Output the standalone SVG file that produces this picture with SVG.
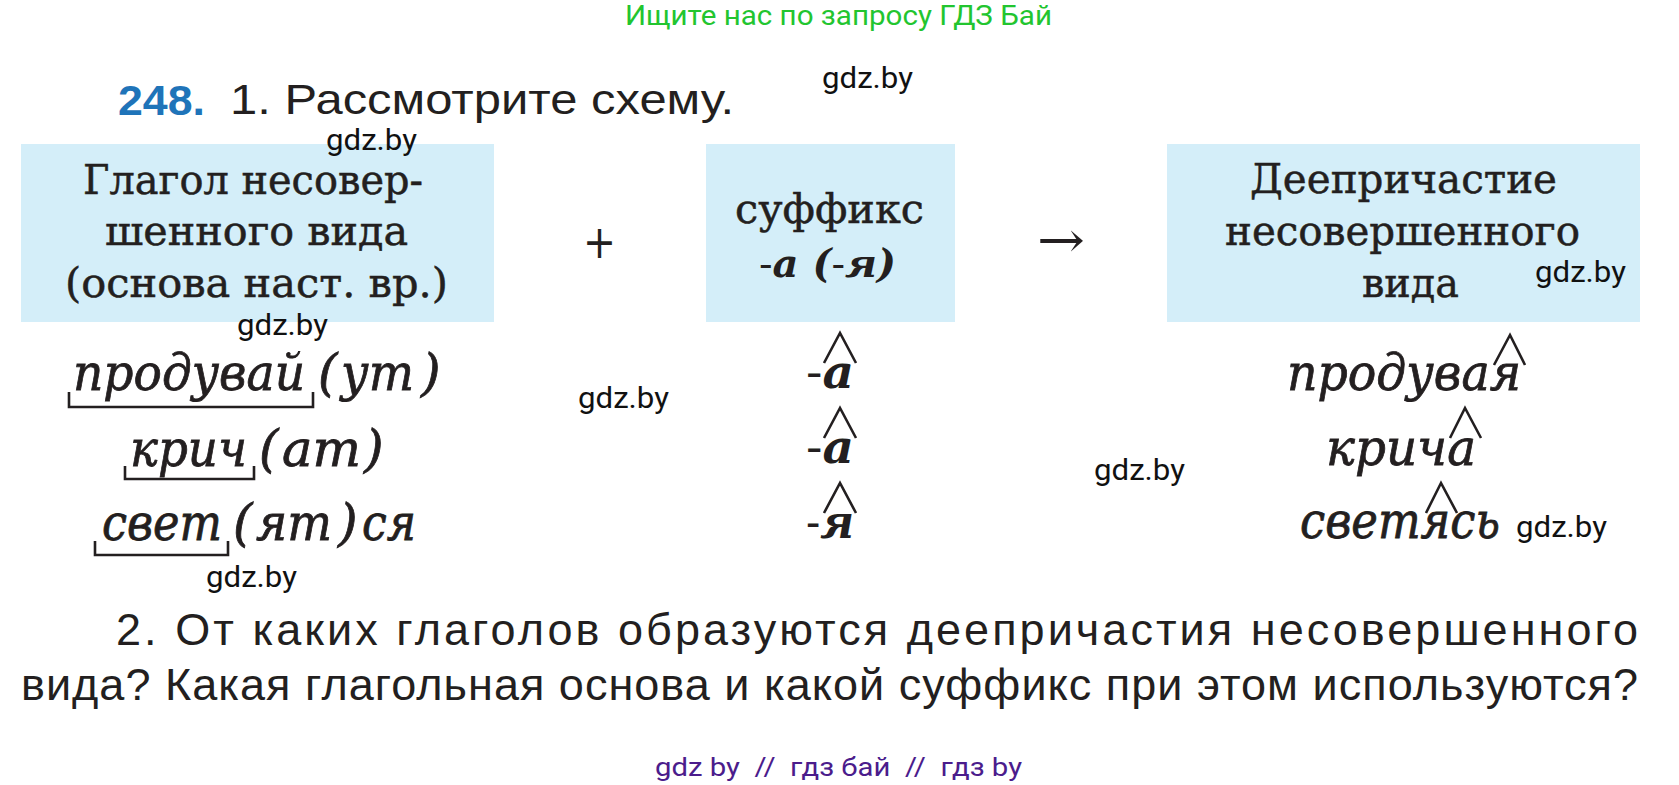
<svg xmlns="http://www.w3.org/2000/svg" width="1679" height="785" viewBox="0 0 1679 785">
<style>
.bg{fill:#ffffff}
.box{fill:#d4eef9}
.sans{font-family:"Liberation Sans",Arial,sans-serif;fill:#231f20}
.serif{font-family:"DejaVu Serif","Liberation Serif",serif;fill:#231f20;font-size:41px;stroke:#231f20;stroke-width:0.5}
.ital{font-family:"DejaVu Serif","Liberation Serif",serif;font-style:italic;fill:#231f20;font-size:50px;stroke:#231f20;stroke-width:0.8}
.bi{font-family:"DejaVu Serif","Liberation Serif",serif;font-style:italic;font-weight:bold;fill:#231f20}
.dash{font-weight:normal;font-style:normal}
.wm{font-family:Roboto,"Liberation Sans",sans-serif;font-size:29px;fill:#111111}
.mark{fill:none;stroke:#231f20;stroke-width:2.6;stroke-linejoin:miter}
</style>
<rect class="bg" x="0" y="0" width="1679" height="785"/>

<g id="header">
<text x="625" y="25" font-family="Roboto,'Liberation Sans',sans-serif" font-size="28" fill="#22c52f" textLength="427" lengthAdjust="spacingAndGlyphs">Ищите нас по запросу ГДЗ Бай</text>
<text x="118" y="115" class="sans" font-size="42" font-weight="bold" style="fill:#1f74b9" textLength="87" lengthAdjust="spacingAndGlyphs">248.</text>
<text x="230" y="114" class="sans" font-size="43" textLength="504" lengthAdjust="spacingAndGlyphs">1. Рассмотрите схему.</text>
</g>

<g id="node-verb">
<rect class="box" x="21" y="144" width="473" height="178"/>
<text class="serif" x="83" y="194" textLength="340" lengthAdjust="spacingAndGlyphs">Глагол несовер-</text>
<text class="serif" x="105" y="245" textLength="303" lengthAdjust="spacingAndGlyphs">шенного вида</text>
<text class="serif" x="65" y="297" textLength="383" lengthAdjust="spacingAndGlyphs">(основа наст. вр.)</text>
</g>

<g id="node-suffix">
<rect class="box" x="706" y="144" width="249" height="178"/>
<text class="serif" x="735" y="223" textLength="189" lengthAdjust="spacingAndGlyphs">суффикс</text>
<text class="bi" x="759" y="277" font-size="40" textLength="137" lengthAdjust="spacingAndGlyphs"><tspan class="dash">-</tspan>а (<tspan class="dash">-</tspan>я)</text>
</g>

<g id="node-participle">
<rect class="box" x="1167" y="144" width="473" height="178"/>
<text class="serif" x="1250" y="193" textLength="307" lengthAdjust="spacingAndGlyphs">Деепричастие</text>
<text class="serif" x="1225" y="245" textLength="355" lengthAdjust="spacingAndGlyphs">несовершенного</text>
<text class="serif" x="1362" y="297" textLength="97" lengthAdjust="spacingAndGlyphs">вида</text>
</g>

<g id="connectors">
<text x="583" y="258" font-family="'DejaVu Sans',sans-serif" font-size="46" fill="#231f20" textLength="33" lengthAdjust="spacingAndGlyphs">+</text>
<text x="1037" y="257" font-family="'DejaVu Serif',serif" font-size="50" fill="#231f20" textLength="48" lengthAdjust="spacingAndGlyphs">→</text>
</g>

<g id="verbs">
<text class="ital" y="390"><tspan x="73" textLength="232" lengthAdjust="spacingAndGlyphs">продувай</tspan><tspan x="318">(</tspan><tspan x="341" textLength="73" lengthAdjust="spacingAndGlyphs">ут</tspan><tspan x="421">)</tspan></text>
<text class="ital" y="466"><tspan x="130" textLength="117" lengthAdjust="spacingAndGlyphs">крич</tspan><tspan x="259">(</tspan><tspan x="282" textLength="79" lengthAdjust="spacingAndGlyphs">ат</tspan><tspan x="364">)</tspan></text>
<text class="ital" y="540"><tspan x="102" textLength="120" lengthAdjust="spacingAndGlyphs">свет</tspan><tspan x="233">(</tspan><tspan x="256" textLength="76" lengthAdjust="spacingAndGlyphs">ят</tspan><tspan x="338">)</tspan><tspan x="362" textLength="54" lengthAdjust="spacingAndGlyphs">ся</tspan></text>
<path class="mark" d="M69,392 V407 H313 V392"/>
<path class="mark" d="M125,466 V479 H254 V466"/>
<path class="mark" d="M95,541 V555 H228 V541"/>
</g>

<g id="suffixes">
<text class="bi" x="806" y="388" font-size="46" textLength="48" lengthAdjust="spacingAndGlyphs"><tspan class="dash">-</tspan>а</text>
<text class="bi" x="806" y="463" font-size="46" textLength="48" lengthAdjust="spacingAndGlyphs"><tspan class="dash">-</tspan>а</text>
<text class="bi" x="806" y="538" font-size="46" textLength="48" lengthAdjust="spacingAndGlyphs"><tspan class="dash">-</tspan>я</text>
<path class="mark" d="M824,363 L840,333 L856,363"/>
<path class="mark" d="M824,438 L840,408 L856,438"/>
<path class="mark" d="M824,513 L840,483 L856,513"/>
</g>

<g id="participles">
<text class="ital" x="1287" y="390" textLength="234" lengthAdjust="spacingAndGlyphs">продувая</text>
<text class="ital" x="1326" y="465" textLength="150" lengthAdjust="spacingAndGlyphs">крича</text>
<text class="ital" x="1300" y="538" textLength="200" lengthAdjust="spacingAndGlyphs">светясь</text>
<path class="mark" d="M1494,365 L1510,335 L1525,365"/>
<path class="mark" d="M1450,438 L1465,408 L1481,438"/>
<path class="mark" d="M1426,513 L1441,483 L1457,513"/>
</g>

<g id="question">
<text class="sans" x="116" y="645" font-size="45" textLength="1522" lengthAdjust="spacing">2. От каких глаголов образуются деепричастия несовершенного</text>
<text class="sans" x="21" y="700" font-size="45" textLength="1617" lengthAdjust="spacing">вида? Какая глагольная основа и какой суффикс при этом используются?</text>
</g>

<g id="watermarks">
<text class="wm" x="822" y="88" textLength="91" lengthAdjust="spacingAndGlyphs">gdz.by</text>
<text class="wm" x="326" y="150" font-size="27" textLength="91" lengthAdjust="spacingAndGlyphs">gdz.by</text>
<text class="wm" x="237" y="335" textLength="91" lengthAdjust="spacingAndGlyphs">gdz.by</text>
<text class="wm" x="578" y="408" textLength="91" lengthAdjust="spacingAndGlyphs">gdz.by</text>
<text class="wm" x="1094" y="480" textLength="91" lengthAdjust="spacingAndGlyphs">gdz.by</text>
<text class="wm" x="1535" y="282" textLength="91" lengthAdjust="spacingAndGlyphs">gdz.by</text>
<text class="wm" x="1516" y="537" textLength="91" lengthAdjust="spacingAndGlyphs">gdz.by</text>
<text class="wm" x="206" y="587" textLength="91" lengthAdjust="spacingAndGlyphs">gdz.by</text>
</g>

<g id="footer">
<text x="655" y="776" font-family="Roboto,'Liberation Sans',sans-serif" font-size="26" fill="#4b1c8c" xml:space="preserve" textLength="367" lengthAdjust="spacingAndGlyphs">gdz by  //  гдз бай  //  гдз by</text>
</g>
</svg>
